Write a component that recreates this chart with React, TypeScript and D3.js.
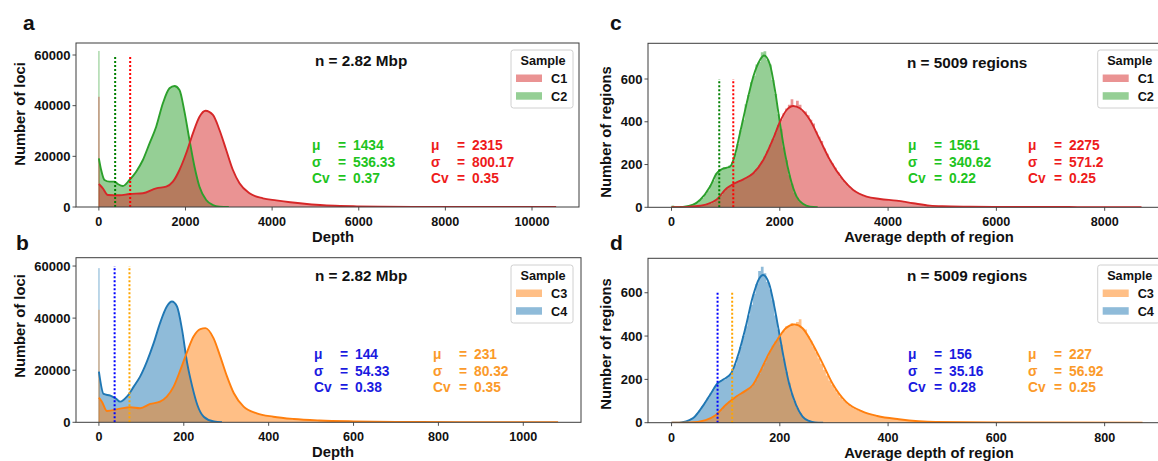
import React from 'react';
import * as d3 from 'd3';

const FONT = '"Liberation Sans", Arial, Helvetica, sans-serif';

type Pt = [number, number];

// ---------- Panel a / b : per-locus depth (KDE curves) ----------
const C2_DEPTH_KDE: Pt[] = [[0,19220],[53,14600],[130,10660],[245,10000],[360,10000],[438,9080],[554,8290],[707,10660],[861,13940],[1016,18550],[1170,25140],[1323,31700],[1478,40940],[1630,46860],[1746,47770],[1861,46190],[1976,37630],[2092,26450],[2208,15910],[2323,8010],[2478,2760],[2633,790],[2785,150],[3000,0]];
const C1_DEPTH_KDE: Pt[] = [[0,9080],[92,7380],[208,4740],[476,4610],[707,5130],[1016,5400],[1323,7380],[1554,8010],[1709,9990],[1861,14600],[2016,21200],[2171,29090],[2323,35650],[2462,38020],[2633,36320],[2785,30400],[2940,22500],[3095,14600],[3247,9360],[3478,5400],[3788,3430],[4095,2600],[4418,1850],[4803,1180],[5187,670],[5573,400],[5958,250],[6500,130],[7500,50],[8500,20],[10557,0]];
const C4_DEPTH_KDE: Pt[] = [[0,19460],[11,10880],[27,10230],[39,9230],[50,7920],[66,9850],[82,13700],[97,17540],[113,23310],[129,30380],[144,38080],[160,44460],[172,46380],[184,44460],[196,35500],[208,22690],[220,13700],[232,6650],[247,2150],[271,300],[290,0]];
const C3_DEPTH_KDE: Pt[] = [[0,9460],[7,7920],[19,4350],[50,5230],[74,5770],[97,5380],[121,7040],[144,7920],[160,9850],[176,13700],[192,20120],[208,27150],[223,32920],[239,35770],[251,36150],[270,32310],[286,25230],[302,17540],[318,11150],[341,6000],[372,3460],[411,2150],[459,1270],[520,700],[600,350],[700,150],[850,60],[1082,0]];
// count of the zero-depth bin
const ZERO_BIN = { C1: 43500, C2: 61600, C3: 43200, C4: 59200 };

// ---------- Panel c / d : per-region average depth ----------
const C2_REGION_KDE: Pt[] = [[0,0],[150,1],[212,2],[400,12],[526,34],[710,96],[834,159],[926,178],[1080,190],[1172,245],[1264,346],[1388,486],[1510,611],[1634,689],[1708,710],[1818,668],[1910,549],[2003,393],[2095,252],[2188,143],[2311,50],[2434,15],[2557,3],[2700,0]];
const C1_REGION_KDE: Pt[] = [[0,0],[300,2],[526,7],[700,18],[834,37],[1019,89],[1141,109],[1326,131],[1510,159],[1695,221],[1880,322],[2003,400],[2126,455],[2249,474],[2372,463],[2557,408],[2742,315],[2926,221],[3172,128],[3356,81],[3603,50],[3849,39],[4157,31],[4464,19],[4772,8],[5000,5],[5500,3],[6500,1.5],[7500,1],[8680,0.5]];
const C4_REGION_KDE: Pt[] = [[0,0],[14,0.5],[39,20],[57,74],[73,136],[85,182],[94,197],[110,228],[122,305],[137,443],[150,581],[162,666],[169,682],[180,643],[190,535],[199,412],[208,289],[217,182],[230,82],[242,28],[254,8],[265,1],[280,0]];
const C3_REGION_KDE: Pt[] = [[0,0],[33,1],[63,12],[82,35],[100,82],[119,120],[137,148],[150,174],[165,243],[180,320],[199,397],[211,436],[227,454],[242,436],[260,366],[279,274],[297,182],[322,97],[353,51],[380,31],[420,16],[488,3],[600,1],[870,0]];

// histogram bins: [first bin start, bin width]
const C2_REGION_BIN: Pt = [0, 50];
const C2_REGION_COUNTS = [9,0,0,1,3,4,8,10,17,22,35,43,62,78,103,125,158,170,178,186,181,195,212,250,296,360,410,482,525,585,615,668,680,725,730,690,668,595,530,435,365,280,220,150,110,68,45,25,16,7,4,2,1];
const C1_REGION_BIN: Pt = [300, 50];
const C1_REGION_COUNTS = [1,2,2,4,6,8,10,13,17,22,33,45,58,75,88,100,108,115,120,126,131,138,145,153,162,178,195,215,238,265,292,320,350,385,410,440,462,480,505,470,498,480,452,448,430,410,392,355,330,310,275,250,222,205,185,165,142,125,112,98,86,78,70,62,56,51,48,45,42,40,39,38,36,35,33,32,31,30,28,26,24,22,20,18,16,14,12,10,9,8,7,6,5,5];
const C1_REGION_TAIL_BIN: Pt = [5000, 200];
const C1_REGION_TAIL = [4,3,3,2,2,2,1,1,1,1,1,1,0,1,0,0,1,0,1];
const C4_REGION_BIN: Pt = [20, 5];
const C4_REGION_COUNTS = [5,8,12,18,28,42,58,76,95,115,135,155,172,186,195,200,208,220,240,270,305,350,400,445,495,545,595,640,700,720,690,650,615,565,495,430,360,295,235,185,135,100,68,45,27,16,9,5,2,1];
const C3_REGION_BIN: Pt = [30, 5];
const C3_REGION_COUNTS = [1,2,3,4,6,8,11,15,20,27,35,47,60,74,88,100,110,118,126,133,141,148,156,166,180,200,225,250,276,305,332,355,375,393,410,425,445,447,460,454,465,478,436,430,400,378,352,325,298,272,245,218,195,175,155,137,120,106,95,84,75,67,60,54,49,45,41,37,34,31,29,27,25,23,21,19,17,15,14,12,11,10,9,8,7,6,5,5,4,4,3,3,3,2];
const C3_REGION_TAIL_BIN: Pt = [500, 20];
const C3_REGION_TAIL = [2,2,2,1,1,1,1,1,1,1,0,1,0,1,0,0,1,0,1];

// statistics [mu, sigma, cv] and cut-off line (dotted)
const STATS_A = { C2: ['1434', '536.33', '0.37'], C1: ['2315', '800.17', '0.35'] };
const STATS_B = { C4: ['144', '54.33', '0.38'], C3: ['231', '80.32', '0.35'] };
const STATS_C = { C2: ['1561', '340.62', '0.22'], C1: ['2275', '571.2', '0.25'] };
const STATS_D = { C4: ['156', '35.16', '0.28'], C3: ['227', '56.92', '0.25'] };
const CUTOFF_A = { C2: 376, C1: 723 };
const CUTOFF_B = { C4: 37, C3: 72 };
const CUTOFF_C = { C2: 882, C1: 1141 };
const CUTOFF_D = { C4: 85, C3: 112 };
const CUTOFF_TOP_LOCI = 60000;
const CUTOFF_TOP_REGIONS = 600;

const TICKS_X_A = [0, 2000, 4000, 6000, 8000, 10000];
const TICKS_X_B = [0, 200, 400, 600, 800, 1000];
const TICKS_X_C = [0, 2000, 4000, 6000, 8000];
const TICKS_X_D = [0, 200, 400, 600, 800];
const TICKS_Y_LOCI = [0, 20000, 40000, 60000];
const TICKS_Y_REGIONS = [0, 200, 400, 600];

const N_LOCI = 'n = 2.82 Mbp';
const N_REGIONS = 'n = 5009 regions';
const STAT_LABELS = ['\u03bc', '\u03c3', 'Cv'];

const COL = {
  C1: { line: '#d62728', text: '#ee1b1b', dot: '#ff0000' },
  C2: { line: '#2ca02c', text: '#1ec41e', dot: '#008000' },
  C3: { line: '#ff7f0e', text: '#fb9a2a', dot: '#ffa500' },
  C4: { line: '#1f77b4', text: '#1a1ae0', dot: '#0000ff' },
};

type Key = 'C1' | 'C2' | 'C3' | 'C4';

interface SeriesDef {
  key: Key;
  kde: Pt[];
  zero?: number;
  bin?: Pt;
  counts?: number[];
  tailBin?: Pt;
  tail?: number[];
  stats: string[];
  cutoff: number;
}

interface PanelDef {
  letter: string;
  letterX: number;
  letterY: number;
  left: number; right: number; top: number; bottom: number;
  xDomain: [number, number];
  yDomain: [number, number];
  xTicks: number[];
  yTicks: number[];
  xLabel: string; xLabelX: number;
  yLabel: string; yLabelX: number; yLabelY: number;
  nText: string; nX: number; nY: number;
  legendX: number; legendY: number;
  legendKeys: Key[];
  back: SeriesDef; front: SeriesDef;
  statsX: [number, number];
  statsY: number;
  cutTop: number;
}

function stepPoints(bin: Pt, counts: number[], tailBin?: Pt, tail?: number[]): Pt[] {
  const pts: Pt[] = [];
  counts.forEach((v, i) => pts.push([bin[0] + i * bin[1], v]));
  let end = bin[0] + counts.length * bin[1];
  if (tailBin && tail) {
    tail.forEach((v, i) => pts.push([tailBin[0] + i * tailBin[1], v]));
    end = tailBin[0] + tail.length * tailBin[1];
  }
  pts.push([end, 0]);
  return pts;
}

function Panel({ p }: { p: PanelDef }) {
  const x = d3.scaleLinear().domain(p.xDomain).range([p.left, p.right]);
  const y = d3.scaleLinear().domain(p.yDomain).range([p.bottom, p.top]);
  const line = d3.line<Pt>().x(d => x(d[0])).y(d => y(d[1])).curve(d3.curveMonotoneX);
  const areaSmooth = d3.area<Pt>().x(d => x(d[0])).y0(y(0)).y1(d => y(d[1])).curve(d3.curveMonotoneX);
  const areaStep = d3.area<Pt>().x(d => x(d[0])).y0(y(0)).y1(d => y(d[1])).curve(d3.curveStepAfter);
  const clipId = 'clip' + p.letter;
  const fills = [p.back, p.front].map(s => {
    const c = COL[s.key].line;
    if (s.bin && s.counts) {
      return <path key={s.key} d={areaStep(stepPoints(s.bin, s.counts, s.tailBin, s.tail)) || ''} fill={c} fillOpacity={0.5} />;
    }
    return (
      <g key={s.key}>
        <path d={areaSmooth(s.kde) || ''} fill={c} fillOpacity={0.5} />
        {s.zero !== undefined && (
          <rect x={x(0) - 0.6} width={1.3} y={y(s.zero)} height={y(0) - y(s.zero)} fill={c} fillOpacity={0.45} />
        )}
      </g>
    );
  });
  const fmt = (v: number) => String(v);
  const statsCols: [SeriesDef, number][] = [[p.back, p.statsX[0]], [p.front, p.statsX[1]]];
  return (
    <g fontFamily={FONT} fontWeight="bold">
      <text x={p.letterX} y={p.letterY} fontSize={21} fill="#111">{p.letter}</text>
      <defs>
        <clipPath id={clipId}><rect x={p.left} y={p.top} width={p.right - p.left} height={p.bottom - p.top} /></clipPath>
      </defs>
      <g clipPath={`url(#${clipId})`}>
        {fills}
        {[p.back, p.front].map(s => (
          <path key={s.key} d={line(s.kde) || ''} fill="none" stroke={COL[s.key].line} strokeWidth={1.9} />
        ))}
        {[p.back, p.front].map(s => (
          <line key={s.key} x1={x(s.cutoff)} x2={x(s.cutoff)} y1={y(0)} y2={y(p.cutTop)}
            stroke={COL[s.key].dot} strokeWidth={2} strokeDasharray="2,2" />
        ))}
      </g>
      <rect x={p.left} y={p.top} width={p.right - p.left} height={p.bottom - p.top} fill="none" stroke="#3c3c3c" strokeWidth={1} />
      {p.xTicks.map(t => (
        <g key={t}>
          <line x1={x(t)} x2={x(t)} y1={p.bottom} y2={p.bottom + 3.5} stroke="#3c3c3c" strokeWidth={0.9} />
          <text x={x(t)} y={p.bottom + 19} fontSize={12.6} textAnchor="middle" fill="#111">{fmt(t)}</text>
        </g>
      ))}
      {p.yTicks.map(t => (
        <g key={t}>
          <line x1={p.left - 3.5} x2={p.left} y1={y(t)} y2={y(t)} stroke="#3c3c3c" strokeWidth={0.9} />
          <text x={p.left - 5.5} y={y(t)} dy="0.36em" fontSize={13} textAnchor="end" fill="#111">{fmt(t)}</text>
        </g>
      ))}
      <text x={p.xLabelX} y={p.bottom + 35} fontSize={14.8} textAnchor="middle" fill="#111">{p.xLabel}</text>
      <text transform={`translate(${p.yLabelX},${p.yLabelY}) rotate(-90)`} dy="0.36em" fontSize={14.8} textAnchor="middle" fill="#111">{p.yLabel}</text>
      <text x={p.nX} y={p.nY} dy="0.36em" fontSize={15.3} fill="#111">{p.nText}</text>
      {/* legend */}
      <g>
        <rect x={p.legendX} y={p.legendY} width={62} height={58} rx={2.5} fill="#fff" fillOpacity={0.85} stroke="#d0d0d0" strokeWidth={1} />
        <text x={p.legendX + 32} y={p.legendY + 10.5} dy="0.36em" fontSize={12.7} textAnchor="middle" fill="#111">Sample</text>
        {p.legendKeys.map((k, i) => (
          <g key={k}>
            <rect x={p.legendX + 5} y={p.legendY + 24.5 + i * 17.7} width={26} height={7.5} fill={COL[k].line} fillOpacity={0.5} />
            <text x={p.legendX + 40} y={p.legendY + 28.3 + i * 17.7} dy="0.36em" fontSize={12.7} fill="#111">{k}</text>
          </g>
        ))}
      </g>
      {/* statistics */}
      {statsCols.map(([s, sx]) => (
        <g key={s.key} fill={COL[s.key].text} fontSize={13.8}>
          {STAT_LABELS.map((lab, i) => (
            <g key={lab}>
              <text x={sx} y={p.statsY + i * 16.6} dy="0.36em">{lab}</text>
              <text x={sx + 26} y={p.statsY + i * 16.6} dy="0.36em">=</text>
              <text x={sx + 41} y={p.statsY + i * 16.6} dy="0.36em">{s.stats[i]}</text>
            </g>
          ))}
        </g>
      ))}
    </g>
  );
}

const PANELS: PanelDef[] = [
  {
    letter: 'a', letterX: 23, letterY: 30,
    left: 76, right: 579, top: 43, bottom: 207,
    xDomain: [-528, 11085], yDomain: [0, 64737],
    xTicks: TICKS_X_A, yTicks: TICKS_Y_LOCI,
    xLabel: 'Depth', xLabelX: 333, yLabel: 'Number of loci', yLabelX: 20, yLabelY: 114,
    nText: N_LOCI, nX: 315, nY: 60,
    legendX: 511, legendY: 50, legendKeys: ['C1', 'C2'],
    back: { key: 'C2', kde: C2_DEPTH_KDE, zero: ZERO_BIN.C2, stats: STATS_A.C2, cutoff: CUTOFF_A.C2 },
    front: { key: 'C1', kde: C1_DEPTH_KDE, zero: ZERO_BIN.C1, stats: STATS_A.C1, cutoff: CUTOFF_A.C1 },
    statsX: [312, 431], statsY: 145, cutTop: CUTOFF_TOP_LOCI,
  },
  {
    letter: 'b', letterX: 16, letterY: 250,
    left: 76, right: 581, top: 257.7, bottom: 422.3,
    xDomain: [-54, 1136], yDomain: [0, 63200],
    xTicks: TICKS_X_B, yTicks: TICKS_Y_LOCI,
    xLabel: 'Depth', xLabelX: 333, yLabel: 'Number of loci', yLabelX: 20, yLabelY: 326,
    nText: N_LOCI, nX: 315, nY: 275,
    legendX: 511, legendY: 265, legendKeys: ['C3', 'C4'],
    back: { key: 'C4', kde: C4_DEPTH_KDE, zero: ZERO_BIN.C4, stats: STATS_B.C4, cutoff: CUTOFF_B.C4 },
    front: { key: 'C3', kde: C3_DEPTH_KDE, zero: ZERO_BIN.C3, stats: STATS_B.C3, cutoff: CUTOFF_B.C3 },
    statsX: [314, 433], statsY: 354, cutTop: CUTOFF_TOP_LOCI,
  },
  {
    letter: 'c', letterX: 610, letterY: 30,
    left: 648, right: 1165, top: 43.3, bottom: 207.3,
    xDomain: [-434, 9114], yDomain: [0, 767],
    xTicks: TICKS_X_C, yTicks: TICKS_Y_REGIONS,
    xLabel: 'Average depth of region', xLabelX: 929, yLabel: 'Number of regions', yLabelX: 606, yLabelY: 132,
    nText: N_REGIONS, nX: 907, nY: 62,
    legendX: 1097.7, legendY: 50, legendKeys: ['C1', 'C2'],
    back: { key: 'C2', kde: C2_REGION_KDE, bin: C2_REGION_BIN, counts: C2_REGION_COUNTS, stats: STATS_C.C2, cutoff: CUTOFF_C.C2 },
    front: { key: 'C1', kde: C1_REGION_KDE, bin: C1_REGION_BIN, counts: C1_REGION_COUNTS, tailBin: C1_REGION_TAIL_BIN, tail: C1_REGION_TAIL, stats: STATS_C.C1, cutoff: CUTOFF_C.C1 },
    statsX: [908, 1028], statsY: 145, cutTop: CUTOFF_TOP_REGIONS,
  },
  {
    letter: 'd', letterX: 610, letterY: 250,
    left: 648, right: 1165, top: 258.3, bottom: 422.7,
    xDomain: [-43.5, 911.5], yDomain: [0, 759],
    xTicks: TICKS_X_D, yTicks: TICKS_Y_REGIONS,
    xLabel: 'Average depth of region', xLabelX: 929, yLabel: 'Number of regions', yLabelX: 606, yLabelY: 344,
    nText: N_REGIONS, nX: 907, nY: 275,
    legendX: 1097.7, legendY: 265, legendKeys: ['C3', 'C4'],
    back: { key: 'C4', kde: C4_REGION_KDE, bin: C4_REGION_BIN, counts: C4_REGION_COUNTS, stats: STATS_D.C4, cutoff: CUTOFF_D.C4 },
    front: { key: 'C3', kde: C3_REGION_KDE, bin: C3_REGION_BIN, counts: C3_REGION_COUNTS, tailBin: C3_REGION_TAIL_BIN, tail: C3_REGION_TAIL, stats: STATS_D.C3, cutoff: CUTOFF_D.C3 },
    statsX: [908, 1028], statsY: 354, cutTop: CUTOFF_TOP_REGIONS,
  },
];

export default function App() {
  return (
    <svg width={1158} height={461} viewBox="0 0 1158 461"
      style={{ position: 'absolute', left: 0, top: 0, background: '#fff', display: 'block' }}>
      <rect width={1158} height={461} fill="#fff" />
      {PANELS.map(p => <Panel key={p.letter} p={p} />)}
    </svg>
  );
}
